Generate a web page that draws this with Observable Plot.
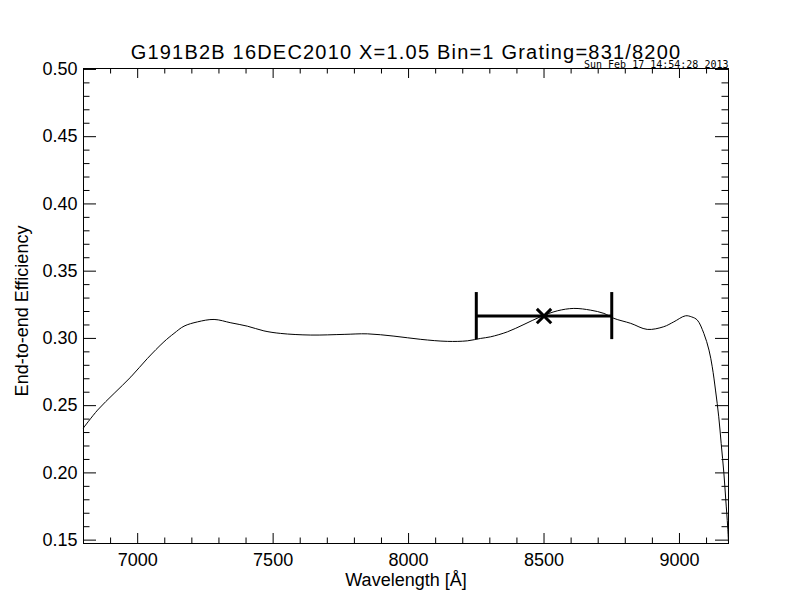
<!DOCTYPE html>
<html><head><meta charset="utf-8">
<script src="https://cdn.jsdelivr.net/npm/d3@7"></script>
<script src="https://cdn.jsdelivr.net/npm/@observablehq/plot@0.6"></script>
<style>body{margin:0;background:#fff} svg{display:block}</style>
</head><body><div id="chart"></div>
<script>
// ---- data ----
const wavelength = [6800, 6852, 6913, 6975, 7036, 7097, 7134, 7171, 7221, 7282, 7344, 7405, 7466, 7528,
  7639, 7762, 7848, 7946, 8045, 8143, 8217, 8266, 8303, 8365, 8426, 8487, 8549, 8610, 8672, 8721, 8758,
  8820, 8881, 8942, 8979, 9022, 9045, 9066, 9090, 9109, 9121, 9133, 9145, 9154, 9164, 9171, 9178, 9181];
const efficiency = [0.2335, 0.2467, 0.2591, 0.2714, 0.2851, 0.2975, 0.3037, 0.3091, 0.3123, 0.3141, 0.3116,
  0.3091, 0.3056, 0.3037, 0.3025, 0.3030, 0.3034, 0.3017, 0.2993, 0.2978, 0.2982, 0.3000, 0.3012, 0.3049,
  0.3104, 0.3161, 0.3205, 0.3223, 0.3210, 0.3186, 0.3149, 0.3112, 0.3067, 0.3087, 0.3123, 0.3168, 0.3160,
  0.3136, 0.3037, 0.2913, 0.2789, 0.2616, 0.2417, 0.2219, 0.1996, 0.1798, 0.1599, 0.1480];
const binCenter = [8500];
const binEfficiency = [0.3166];
const binLow = [8250];
const binHigh = [8750];
const capLow = [0.2991];
const capHigh = [0.3341];
const xMajorTicks = [7000, 7500, 8000, 8500, 9000];
const yMajorTicks = [0.15, 0.20, 0.25, 0.30, 0.35, 0.40, 0.45, 0.50];
const titleText = "G191B2B 16DEC2010 X=1.05 Bin=1 Grating=831/8200";
const stampText = "Sun Feb 17 14:54:28 2013";
const xLabel = "Wavelength [Å]";
const yLabel = "End-to-end Efficiency";

const xMinorTicks = d3.range(6900, 9200, 100).filter(v => v % 500 !== 0);
const yMinorTicks = d3.range(15, 51).filter(v => v % 5 !== 0).map(v => v / 100);

const W = 792, H = 612, mL = 83, mR = 64, mT = 68, mB = 69;
const fw = W - mL - mR, fh = H - mT - mB;
const font = "'Liberation Sans', Arial, Helvetica, sans-serif";
const curve = wavelength.map((w, i) => ({w, e: efficiency[i]}));
const bins = binCenter.map((c, i) => ({c, e: binEfficiency[i], lo: binLow[i], hi: binHigh[i], clo: capLow[i], chi: capHigh[i]}));

const chart = Plot.plot({
  width: W, height: H,
  marginLeft: mL, marginRight: mR, marginTop: mT, marginBottom: mB,
  style: {fontFamily: font, fontSize: "18px", color: "black", background: "white"},
  x: {domain: [6800, 9181]},
  y: {domain: [0.1475, 0.5007]},
  marks: [
    Plot.frame({stroke: "black"}),
    Plot.axisX(xMajorTicks, {tickSize: 0, tickPadding: 10, label: null, fontSize: 18, tickFormat: d3.format("d")}),
    Plot.axisY(yMajorTicks, {tickSize: 0, tickPadding: 6, label: null, fontSize: 18, tickFormat: d3.format(".2f")}),
    // inward ticks on all four sides
    Plot.tickX(xMajorTicks, {x: d => d, insetTop: fh - 10, stroke: "black"}),
    Plot.tickX(xMajorTicks, {x: d => d, insetBottom: fh - 10, stroke: "black"}),
    Plot.tickX(xMinorTicks, {x: d => d, insetTop: fh - 5.5, stroke: "black"}),
    Plot.tickX(xMinorTicks, {x: d => d, insetBottom: fh - 5.5, stroke: "black"}),
    Plot.tickY(yMajorTicks, {y: d => d, insetRight: fw - 13, stroke: "black"}),
    Plot.tickY(yMajorTicks, {y: d => d, insetLeft: fw - 13, stroke: "black"}),
    Plot.tickY(yMinorTicks, {y: d => d, insetRight: fw - 6.5, stroke: "black"}),
    Plot.tickY(yMinorTicks, {y: d => d, insetLeft: fw - 6.5, stroke: "black"}),
    // spectrum
    Plot.line(curve, {x: "w", y: "e", stroke: "black", strokeWidth: 1, curve: "catmull-rom"}),
    // bin error bar and mean
    Plot.ruleY(bins, {y: "e", x1: "lo", x2: "hi", stroke: "black", strokeWidth: 3}),
    Plot.ruleX(bins, {x: "lo", y1: "clo", y2: "chi", stroke: "black", strokeWidth: 3}),
    Plot.ruleX(bins, {x: "hi", y1: "clo", y2: "chi", stroke: "black", strokeWidth: 3}),
    Plot.dot(bins, {x: "c", y: "e", symbol: "times", r: 6.6, stroke: "black", strokeWidth: 3}),
    // texts
    Plot.text([titleText], {frameAnchor: "top", lineAnchor: "bottom", dy: -10, fontSize: 20, text: d => d, fill: "black"}),
    Plot.text([stampText], {frameAnchor: "top-right", textAnchor: "end", lineAnchor: "bottom", dy: -1, dx: 0,
      fontSize: 10, fontFamily: "'DejaVu Sans Mono', monospace", text: d => d, fill: "black"}),
    Plot.text([xLabel], {frameAnchor: "bottom", lineAnchor: "bottom", dy: 42, fontSize: 18, text: d => d, fill: "black"}),
    Plot.text([yLabel], {frameAnchor: "left", textAnchor: "middle", lineAnchor: "bottom", rotate: -90, dx: -56, dy: 5,
      fontSize: 18, text: d => d, fill: "black"})
  ]
});
// widen the title's letter spacing like the reference's device font
d3.select(chart).selectAll("text").filter(function () { return this.textContent === titleText; })
  .attr("letter-spacing", "1.2px");
document.getElementById("chart").appendChild(chart);
</script>
</body></html>
